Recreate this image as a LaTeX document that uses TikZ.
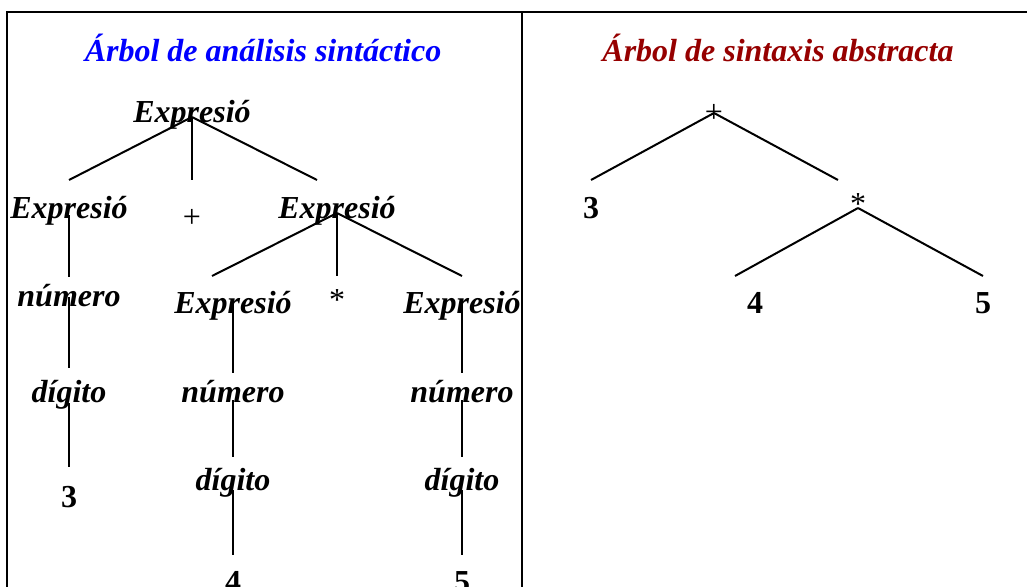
\documentclass[tikz,border=0pt]{standalone}
\usepackage{fontspec}
\setmainfont{Liberation Serif}
\usepackage{tikz}
\definecolor{titleblue}{RGB}{0,0,255}
\definecolor{titlered}{RGB}{150,0,0}
\tikzset{
    treetitle/.style={anchor=base, inner sep=0pt, font=\fontsize{32}{36}\selectfont\bfseries\itshape},
    treelabel/.style={anchor=base, inner sep=0pt, font=\fontsize{32}{36}\selectfont\bfseries\itshape},
    treenum/.style={anchor=base, inner sep=0pt, font=\fontsize{32}{36}\selectfont\bfseries},
    treesym/.style={anchor=center, inner sep=0pt, font=\fontsize{32}{36}\selectfont},
    treeline/.style={line width=2pt},
    frameline/.style={line width=2.6pt}
}

\begin{document}
\begin{tikzpicture}[x=1pt, y=-1pt]
        \useasboundingbox (0,0) rectangle (1027,586);
        % marco
        \draw[frameline] (7,600) -- (7,12) -- (1030,12);
        \draw[frameline] (522,12) -- (522,600);
        % titulos
        \node[treetitle, text=titleblue] (tleft) at (263,61) {Árbol de análisis sintáctico};
        \node[treetitle, text=titlered] (tright) at (778,61) {Árbol de sintaxis abstracta};
        % arbol de analisis sintactico
        \node[treelabel] (exp) at (192,122) {Expresió};
        \node[treelabel] (expa) at (69,218) {Expresió};
        \node[treesym] (suma) at (192,218) {+};
        \node[treelabel] (expb) at (337,218) {Expresió};
        \node[treelabel] (numa) at (69,306) {número};
        \node[treelabel] (diga) at (69,402) {dígito};
        \node[treenum] (tres) at (69,507) {3};
        \node[treelabel] (expc) at (233,313) {Expresió};
        \node[treesym] (prod) at (337,300) {*};
        \node[treelabel] (expd) at (462,313) {Expresió};
        \node[treelabel] (numb) at (233,402) {número};
        \node[treelabel] (digb) at (233,490) {dígito};
        \node[treenum] (cuatro) at (233,592) {4};
        \node[treelabel] (numc) at (462,402) {número};
        \node[treelabel] (digc) at (462,490) {dígito};
        \node[treenum] (cinco) at (462,592) {5};
        \draw[treeline] ([yshift=5]exp.base) -- ([yshift=38]expa.base);
        \draw[treeline] ([yshift=5]exp.base) -- ([yshift=38]suma.center);
        \draw[treeline] ([yshift=5]exp.base) -- ([xshift=-20,yshift=38]expb.base);
        \draw[treeline] ([yshift=3]expa.base) -- ([yshift=29]numa.base);
        \draw[treeline] ([yshift=9]numa.base) -- ([yshift=34]diga.base);
        \draw[treeline] ([yshift=-1]diga.base) -- ([yshift=40]tres.base);
        \draw[treeline] ([yshift=5]expb.base) -- ([xshift=-21,yshift=37]expc.base);
        \draw[treeline] ([yshift=5]expb.base) -- ([yshift=24]prod.center);
        \draw[treeline] ([yshift=5]expb.base) -- ([yshift=37]expd.base);
        \draw[treeline] ([yshift=13]expc.base) -- ([yshift=29]numb.base);
        \draw[treeline] ([yshift=2]numb.base) -- ([yshift=33]digb.base);
        \draw[treeline] (digb.base) -- ([yshift=37]cuatro.base);
        \draw[treeline] ([yshift=13]expd.base) -- ([yshift=29]numc.base);
        \draw[treeline] ([yshift=2]numc.base) -- ([yshift=33]digc.base);
        \draw[treeline] (digc.base) -- ([yshift=37]cinco.base);
        % arbol de sintaxis abstracta
        \node[treesym] (mas) at (714,113) {+};
        \node[treenum] (rtres) at (591,218) {3};
        \node[treesym] (por) at (858,204) {*};
        \node[treenum] (rcuatro) at (755,313) {4};
        \node[treenum] (rcinco) at (983,313) {5};
        \draw[treeline] (mas.center) -- ([yshift=38]rtres.base);
        \draw[treeline] (mas.center) -- ([xshift=-20,yshift=24]por.center);
        \draw[treeline] ([yshift=-4]por.center) -- ([xshift=-20,yshift=37]rcuatro.base);
        \draw[treeline] ([yshift=-4]por.center) -- ([yshift=37]rcinco.base);
\end{tikzpicture}
\end{document}
